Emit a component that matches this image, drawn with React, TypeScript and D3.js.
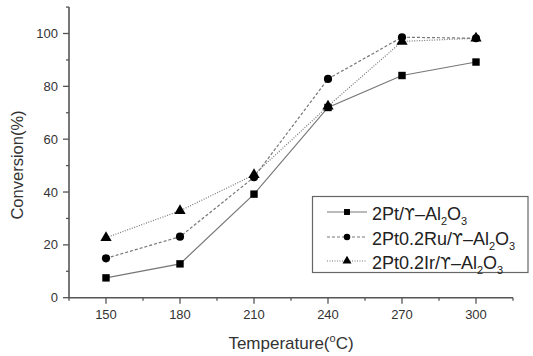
import React from "react";
import * as d3 from "d3";

const temperatures = [150, 180, 210, 240, 270, 300];
const ptValues = [7.5, 12.8, 39.2, 72, 84.1, 89.2];
const ruValues = [14.9, 23.1, 45.6, 82.8, 98.6, 98.2];
const irValues = [22.7, 32.9, 46.5, 72.5, 97, 98.2];
const xTicks = [150, 180, 210, 240, 270, 300];
const xMinor = [135, 165, 195, 225, 255, 285, 315];
const yTicks = [0, 20, 40, 60, 80, 100];
const yMinor = [10, 30, 50, 70, 90, 110];
const seriesPrefixes = ["2Pt/", "2Pt0.2Ru/", "2Pt0.2Ir/"];

const W = 533, H = 356;
const FONT = "'Liberation Sans', Arial, sans-serif";

export default function App() {
  const x = d3.scaleLinear().domain([135, 315]).range([69, 513]);
  const y = d3.scaleLinear().domain([0, 100]).range([297.7, 33.5]);
  const axisColor = "#555";
  const lineColor = "#777";
  const line = d3.line<number>().x((_, i) => x(temperatures[i])).y((v) => y(v));
  const series = [
    { name: seriesPrefixes[0], values: ptValues, dash: "none", shape: "square" },
    { name: seriesPrefixes[1], values: ruValues, dash: "3,2", shape: "circle" },
    { name: seriesPrefixes[2], values: irValues, dash: "1,1.5", shape: "triangle" },
  ];
  const sq = d3.symbol().type(d3.symbolSquare).size(55)();
  const ci = d3.symbol().type(d3.symbolCircle).size(52)();
  const tr = d3.symbol().type(d3.symbolTriangle).size(55)();
  const shapePath = (s: string) => (s === "square" ? sq : s === "circle" ? ci : tr);

  const legendY = [212, 237, 261];
  return (
    <svg width={W} height={H} style={{ position: "absolute", left: 0, top: 0, background: "#fff" }}>
      <rect x={0} y={0} width={W} height={H} fill="#fff" />
      {/* axes */}
      <line x1={x(135)} x2={x(315)} y1={y(0)} y2={y(0)} stroke={axisColor} strokeWidth={1.6} />
      <line x1={x(135)} x2={x(135)} y1={y(0)} y2={y(110)} stroke={axisColor} strokeWidth={1.6} />
      {xTicks.map((t) => (
        <g key={"xt" + t}>
          <line x1={x(t)} x2={x(t)} y1={y(0)} y2={y(0) + 6} stroke={axisColor} strokeWidth={1.3} />
          <text x={x(t)} y={y(0) + 21} textAnchor="middle" fontSize={13} fontFamily={FONT} fill="#333">{t}</text>
        </g>
      ))}
      {xMinor.map((t) => (
        <line key={"xm" + t} x1={x(t)} x2={x(t)} y1={y(0)} y2={y(0) + 3} stroke={axisColor} strokeWidth={1.3} />
      ))}
      {yTicks.map((t) => (
        <g key={"yt" + t}>
          <line x1={x(135)} x2={x(135) - 6} y1={y(t)} y2={y(t)} stroke={axisColor} strokeWidth={1.3} />
          <text x={x(135) - 11} y={y(t) + 4.5} textAnchor="end" fontSize={13} fontFamily={FONT} fill="#333">{t}</text>
        </g>
      ))}
      {yMinor.map((t) => (
        <line key={"ym" + t} x1={x(135)} x2={x(135) - 3} y1={y(t)} y2={y(t)} stroke={axisColor} strokeWidth={1.3} />
      ))}
      <text transform={`translate(23,165) rotate(-90)`} textAnchor="middle" fontSize={16.5} fontFamily={FONT} fill="#333">Conversion(%)</text>
      <text x={x(225)} y={349} textAnchor="middle" fontSize={17} fontFamily={FONT} fill="#333">
        Temperature(<tspan fontSize={11} dy={-7}>o</tspan><tspan dy={7}>C)</tspan>
      </text>
      {/* series */}
      {series.map((s) => (
        <g key={s.name}>
          <path d={line(s.values) || ""} fill="none" stroke={lineColor} strokeWidth={1.2} strokeDasharray={s.dash} />
          {s.values.map((v, i) => (
            <path key={i} d={shapePath(s.shape) || ""} transform={`translate(${x(temperatures[i])},${y(v)})`} fill="#000" />
          ))}
        </g>
      ))}
      {/* legend */}
      <rect x={312.5} y={196.5} width={215.5} height={76} fill="#fff" stroke="#666" strokeWidth={1.2} />
      {series.map((s, i) => (
        <g key={"lg" + i}>
          <line x1={327} x2={367} y1={legendY[i]} y2={legendY[i]} stroke={lineColor} strokeWidth={1.2} strokeDasharray={s.dash} />
          <path d={shapePath(s.shape) || ""} transform={`translate(347,${legendY[i]}) scale(0.8)`} fill="#000" />
          <text x={372} y={legendY[i] + 8} fontSize={18} fontFamily={FONT} fill="#222">
            {s.name}<tspan fontFamily="'DejaVu Sans', sans-serif" fontSize={15.5}>ϒ</tspan>–Al<tspan fontSize={11} dy={5}>2</tspan><tspan dy={-5}>O</tspan><tspan fontSize={11} dy={5}>3</tspan>
          </text>
        </g>
      ))}
    </svg>
  );
}
